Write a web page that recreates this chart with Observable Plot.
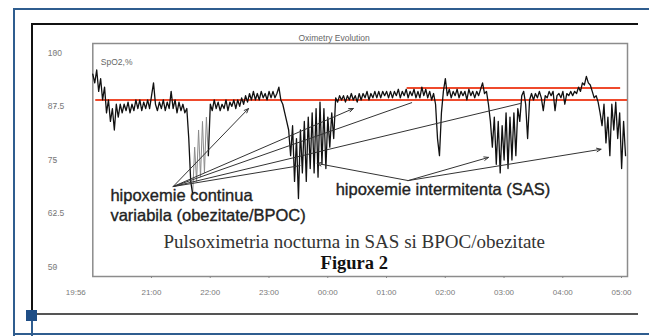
<!DOCTYPE html>
<html><head><meta charset="utf-8">
<script src="https://cdn.jsdelivr.net/npm/d3@7"></script>
<script src="https://cdn.jsdelivr.net/npm/@observablehq/plot@0.6"></script>
<style>
html,body{margin:0;padding:0;background:#fff;}
#wrap{position:relative;width:649px;height:336px;overflow:hidden;background:#fff;}
#wrap svg{position:absolute;left:0;top:0;}
.dec{position:absolute;}
</style></head><body><div id="wrap"></div>
<script>
// ---- data (SpO2 %, one reading every 2 minutes from 19:56) ----
const startTime = "19:56";
const stepMinutes = 2;
const seg1956 = [95,93,96,91,94,89,92,86,89,84,87,82,88,85,88,86,88,86.5,88.5,86,88,86.5,89,87,89,86.5,88.5,87,89,87,90,93];
const seg2100 = [88,86.5,88.5,87,89,86.5,88.5,87,91,87,89,86,88.5,86.5,88,86,87,80,70,67,78,70,82,71,84,72,85,76,88,86.5];
const seg2200 = [89,87,88.5,86.5,88,87,89,86.5,88.5,87.5,89,87,89,87.5,89.5,88,90,88.5,90.5,89,91,89,90.5,89,91,89.5,90.5,89,91,89.5];
const seg2300 = [91,89.5,90.5,92,89,88,86,84,82,76,83,70,80,66,82,72,84,70,85,73,86,72,87,71,88.5,74,87,73,85,78];
const seg0000 = [86,80,89.5,88.5,90,89,90,88.5,90,89,90.5,89,90,88.5,90.5,89,90.5,89.5,91,89,90.5,89.5,91,89.5,91,89.5,91,90,91,89.5];
const seg0100 = [91,89.5,91,90,91.5,89.5,91,90,91.5,89.5,91,90,91.5,89.5,91,89.5,92,90,91.5,89.5,91,89,90.5,88,80,76,86,91,94,90];
const seg0200 = [91.5,89.5,91,90,91.5,89.5,91,90,91,89,91.5,90,91,89.5,91,90,91.5,93,90.5,91,88,84,78,85,74,84,72,83,75,86];
const seg0300 = [73,85,75,86,76,87,84,90,91,88,80,89,90.5,89,90.5,89.5,91,89.5,86.5,90,89.5,91,90,91,86.5,90,90.5,89.5,91,88];
const seg0400 = [90.5,90,91,90,91,90.5,92,91,93,92.5,94.5,93,92.5,91,89.5,90,88.5,86,83,88,79,85,76,88,82,88.5,80,86,73,84,76];
const grayFrom = "21:38", grayTo = "21:54";   // lighter-drawn part of the trace

const yTicks = [50, 62.5, 75, 87.5, 100];
const yTickLabels = ["50", "62.5", "75", "87.5", "100"];
const xTicks = ["21:00","22:00","23:00","00:00","01:00","02:00","03:00","04:00","05:00"];
const xEnd = "05:02";

const baselineValues = [89, 91.8];
const baselineFrom = ["19:59", "01:17"];
const baselineTo = ["05:02", "04:55"];

const chartTitle = "Oximetry Evolution";
const yLabel = "SpO2,%";
const noteTexts = ["hipoxemie continua", "variabila (obezitate/BPOC)", "hipoxemie intermitenta (SAS)"];
const noteTimes = ["20:14", "20:14", "00:04"];
const noteValues = [66.7, 61.9, 68.1];
const captionTexts = ["Pulsoximetria nocturna in SAS si BPOC/obezitate", "Figura 2"];
const captionTimes = ["00:23", "00:23"];
const captionValues = [56.0, 50.9];

// arrows: from (time, value) to (time, value)
const arrowFromTime = ["21:18","21:18","01:18","01:18","01:18"];
const arrowFromValue = [68.8, 68.8, 70.2, 70.2, 70.2];
const arrowToTime = ["22:35","00:22","23:45","02:40","04:35"];
const arrowToValue = [87.0, 87.0, 74.2, 75.6, 77.5];
const linkFromTime = ["21:18","21:18","21:18"];
const linkFromValue = [68.8, 68.8, 68.8];
const linkToTime = ["01:22","03:13","23:28"];
const linkToValue = [88.4, 88.2, 73.7];

// ---- build ----
const parseHM = s => { const [h, m] = s.split(":").map(Number); return new Date(2000, 0, h < 12 ? 2 : 1, h, m); };
const t0 = parseHM(startTime);
const series = [seg1956, seg2100, seg2200, seg2300, seg0000, seg0100, seg0200, seg0300, seg0400]
  .flat().map((v, i) => ({t: new Date(+t0 + i * stepMinutes * 60000), v}));
const g0 = parseHM(grayFrom), g1 = parseHM(grayTo);
const pre = series.filter(d => d.t <= g0);
const mid = series.filter(d => d.t >= g0 && d.t <= g1);
const post = series.filter(d => d.t >= g1);
const baselines = baselineValues.map((v, i) => ({v, a: parseHM(baselineFrom[i]), b: parseHM(baselineTo[i])}));
const notes = noteTexts.map((s, i) => ({s, t: parseHM(noteTimes[i]), v: noteValues[i]}));
const captions = captionTexts.map((s, i) => ({s, t: parseHM(captionTimes[i]), v: captionValues[i]}));
const arrows = arrowFromTime.map((s, i) => ({x1: parseHM(s), y1: arrowFromValue[i], x2: parseHM(arrowToTime[i]), y2: arrowToValue[i]}));
const links = linkFromTime.map((s, i) => ({x1: parseHM(s), y1: linkFromValue[i], x2: parseHM(linkToTime[i]), y2: linkToValue[i]}));
const xTickDates = xTicks.map(parseHM);

const sans = "Liberation Sans, Arial, sans-serif";
const serif = "Liberation Serif, Times New Roman, serif";

const plot = Plot.plot({
  width: 649, height: 336,
  marginLeft: 92.3, marginRight: 22, marginTop: 43, marginBottom: 60,
  style: {background: "transparent", fontFamily: sans},
  x: {type: "time", domain: [t0, parseHM(xEnd)]},
  y: {domain: [47.83, 102.17]},
  marks: [
    Plot.frame({stroke: "#8c8c8c", strokeWidth: 1.5}),
    Plot.axisY({ticks: yTicks, tickFormat: (d, i) => yTickLabels[i], tickSize: 2, textAnchor: "start", dx: -36, fill: "#7a7a7a", stroke: "#888", fontSize: 8.5, label: null}),
    Plot.axisX({ticks: xTickDates, tickFormat: (d, i) => xTicks[i], tickSize: 2, tickPadding: 11, dx: -4, fill: "#7a7a7a", stroke: "#888", fontSize: 8, label: null}),
    Plot.axisX({ticks: [t0], tickFormat: () => startTime, tickSize: 0, tickPadding: 13, dx: -17, fill: "#7a7a7a", fontSize: 8, label: null}),
    Plot.text([chartTitle], {frameAnchor: "top", dx: -26, dy: -9, fontSize: 8.5, fill: "#666"}),
    Plot.text([yLabel], {frameAnchor: "top-left", textAnchor: "start", dx: 8, dy: 15, fontSize: 8.5, fill: "#666"}),
    Plot.ruleY(baselines, {y: "v", x1: "a", x2: "b", stroke: "#ef4a2c", strokeWidth: 2}),
    Plot.line(mid, {x: "t", y: "v", stroke: "#8a8a8a", strokeWidth: 1}),
    Plot.line(pre, {x: "t", y: "v", stroke: "#111", strokeWidth: 1.3}),
    Plot.line(post, {x: "t", y: "v", stroke: "#111", strokeWidth: 1.3}),
    Plot.link(links, {x1: "x1", y1: "y1", x2: "x2", y2: "y2", stroke: "#333", strokeWidth: 1}),
    Plot.arrow(arrows, {x1: "x1", y1: "y1", x2: "x2", y2: "y2", stroke: "#333", strokeWidth: 1, headLength: 7, headAngle: 45}),
    Plot.text(notes, {x: "t", y: "v", text: "s", textAnchor: "start", fontSize: 16.5, fill: "#222", stroke: "#222", strokeWidth: 0.35, fontFamily: sans}),
    Plot.text(captions.slice(0, 1), {x: "t", y: "v", text: "s", fontSize: 19, fill: "#333", fontFamily: serif}),
    Plot.text(captions.slice(1), {x: "t", y: "v", text: "s", fontSize: 18.5, fontWeight: "bold", fill: "#111", fontFamily: serif})
  ]
});
const wrap = document.getElementById("wrap");
wrap.appendChild(plot);
// page decoration (scanned figure borders)
const decs = [
  [14, 8, 635, 2, "#2f5d8f"], [13, 8, 2, 328, "#2f5d8f"], [14, 333, 635, 2, "#2f5d8f"],
  [32, 23, 606, 2, "#111"], [31, 23, 2, 290, "#111"], [32, 312.5, 606, 2, "#555"],
  [26, 310, 11, 11, "#1f4e86"], [31, 321, 2, 15, "#2f5d8f"]
];
for (const [l, t, w, h, c] of decs) {
  const d = document.createElement("div");
  d.className = "dec";
  Object.assign(d.style, {left: l + "px", top: t + "px", width: w + "px", height: h + "px", background: c});
  wrap.appendChild(d);
}
</script></body></html>
